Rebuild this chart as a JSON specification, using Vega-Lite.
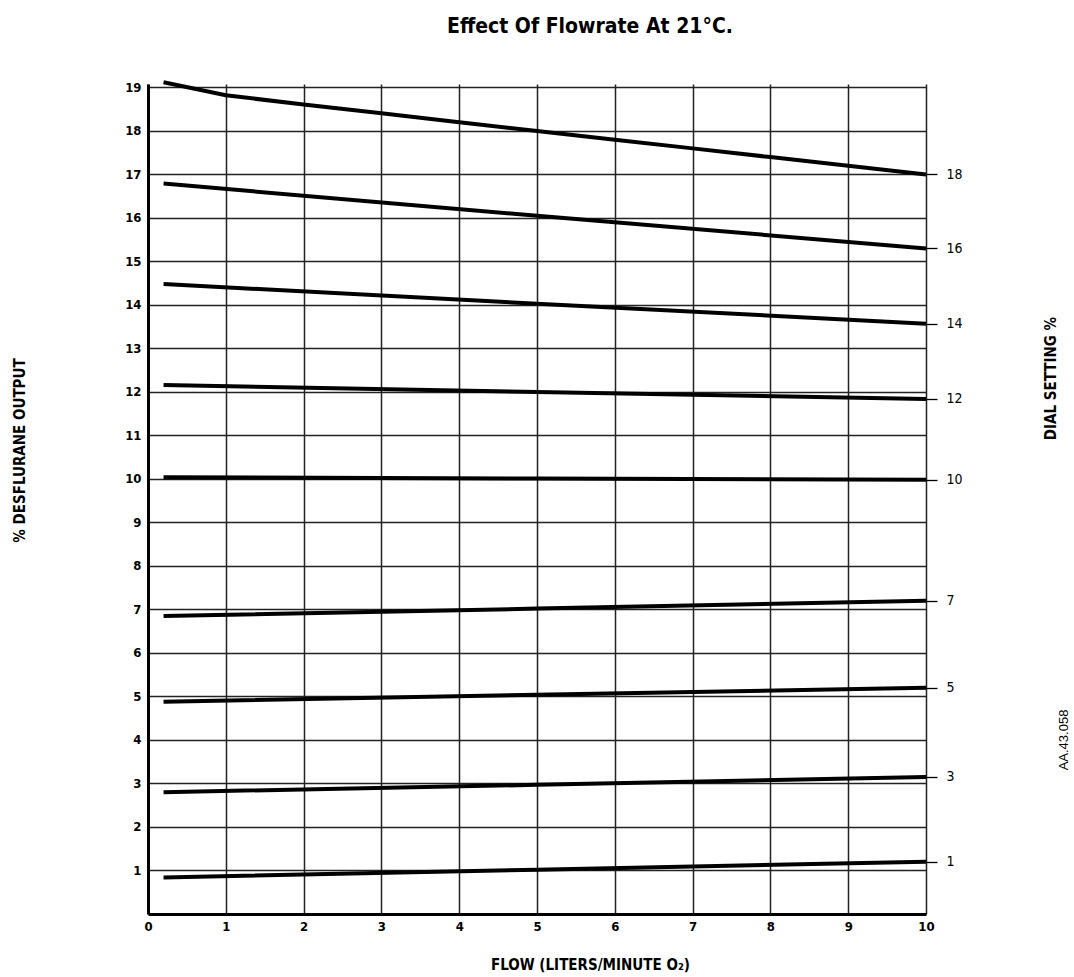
{
  "$schema": "https://vega.github.io/schema/vega-lite/v6.json",
  "width": 778,
  "height": 830,
  "autosize": "none",
  "padding": {"left": 148, "top": 84, "right": 148, "bottom": 63},
  "background": "white",
  "title": {
    "text": "Effect Of Flowrate At 21°C.",
    "font": "Liberation Sans Narrow, DejaVu Sans Condensed, sans-serif",
    "fontSize": 21,
    "fontWeight": "bold",
    "color": "black",
    "anchor": "middle",
    "frame": "group",
    "dx": 53,
    "baseline": "alphabetic",
    "offset": 20
  },
  "config": {
    "view": {"stroke": null},
    "axis": {
      "labelFont": "Liberation Sans Narrow, DejaVu Sans Condensed, sans-serif",
      "titleFont": "Liberation Sans Narrow, DejaVu Sans Condensed, sans-serif",
      "labelColor": "black",
      "titleColor": "black"
    }
  },
  "datasets": {
    "curves": [
      {"dial": 18, "flow": 0.2, "output": 19.12},
      {"dial": 18, "flow": 1, "output": 18.82},
      {"dial": 18, "flow": 2, "output": 18.61},
      {"dial": 18, "flow": 3, "output": 18.41},
      {"dial": 18, "flow": 4, "output": 18.2},
      {"dial": 18, "flow": 5, "output": 18.0},
      {"dial": 18, "flow": 6, "output": 17.8},
      {"dial": 18, "flow": 7, "output": 17.6},
      {"dial": 18, "flow": 8, "output": 17.4},
      {"dial": 18, "flow": 9, "output": 17.2},
      {"dial": 18, "flow": 10, "output": 17.0},
      {"dial": 16, "flow": 0.2, "output": 16.79},
      {"dial": 16, "flow": 5, "output": 16.05},
      {"dial": 16, "flow": 10, "output": 15.3},
      {"dial": 14, "flow": 0.2, "output": 14.48},
      {"dial": 14, "flow": 5, "output": 14.03},
      {"dial": 14, "flow": 10, "output": 13.57},
      {"dial": 12, "flow": 0.2, "output": 12.16},
      {"dial": 12, "flow": 5, "output": 12.0},
      {"dial": 12, "flow": 10, "output": 11.84},
      {"dial": 10, "flow": 0.2, "output": 10.04},
      {"dial": 10, "flow": 5, "output": 10.01},
      {"dial": 10, "flow": 10, "output": 9.98},
      {"dial": 7, "flow": 0.2, "output": 6.85},
      {"dial": 7, "flow": 5, "output": 7.02},
      {"dial": 7, "flow": 10, "output": 7.2},
      {"dial": 5, "flow": 0.2, "output": 4.88},
      {"dial": 5, "flow": 5, "output": 5.04},
      {"dial": 5, "flow": 10, "output": 5.2},
      {"dial": 3, "flow": 0.2, "output": 2.8},
      {"dial": 3, "flow": 5, "output": 2.97},
      {"dial": 3, "flow": 10, "output": 3.15},
      {"dial": 1, "flow": 0.2, "output": 0.84},
      {"dial": 1, "flow": 5, "output": 1.02},
      {"dial": 1, "flow": 10, "output": 1.2}
    ],
    "note": [
      {"label": "AA.43.058", "flow": 11.78, "output": 4.0}
    ]
  },
  "resolve": {"scale": {"y": "independent"}, "axis": {"y": "independent"}},
  "layer": [
    {
      "data": {"name": "curves"},
      "mark": {"type": "line", "color": "black", "strokeWidth": 4, "strokeCap": "butt", "clip": false},
      "encoding": {
        "x": {
          "field": "flow",
          "type": "quantitative",
          "scale": {"domain": [0, 10], "nice": false, "zero": false},
          "axis": {
            "values": [0, 1, 2, 3, 4, 5, 6, 7, 8, 9, 10],
            "format": "d",
            "grid": true,
            "gridColor": "#222222",
            "gridWidth": 1.5,
            "gridOpacity": 1,
            "domain": true,
            "domainColor": "black",
            "domainWidth": 3,
            "ticks": false,
            "labelFontSize": 13,
            "labelFontWeight": "bold",
            "labelPadding": 6,
            "labelFlush": false,
            "title": "FLOW (LITERS/MINUTE O₂)",
            "titleFontSize": 15,
            "titleFontWeight": "bold",
            "titleX": 442,
            "titleY": 50,
            "titleAlign": "center",
            "titleBaseline": "middle"
          }
        },
        "y": {
          "field": "output",
          "type": "quantitative",
          "scale": {"domain": [0, 19.08], "nice": false, "zero": false},
          "axis": {
            "orient": "left",
            "values": [1, 2, 3, 4, 5, 6, 7, 8, 9, 10, 11, 12, 13, 14, 15, 16, 17, 18, 19],
            "grid": true,
            "gridColor": "#222222",
            "gridWidth": 1.3,
            "gridOpacity": 1,
            "domain": true,
            "domainColor": "black",
            "domainWidth": 3,
            "ticks": false,
            "labelFontSize": 13,
            "labelFontWeight": "bold",
            "labelPadding": 7,
            "title": "% DESFLURANE OUTPUT",
            "titleFontSize": 15,
            "titleFontWeight": "bold",
            "titleAngle": -90,
            "titleX": -129,
            "titleY": 366,
            "titleAlign": "center",
            "titleBaseline": "middle"
          }
        },
        "detail": {"field": "dial", "type": "nominal"}
      }
    },
    {
      "data": {"name": "curves"},
      "transform": [{"filter": "datum.flow == 10"}],
      "mark": {"type": "point", "opacity": 0},
      "encoding": {
        "x": {"field": "flow", "type": "quantitative"},
        "y": {
          "field": "output",
          "type": "quantitative",
          "scale": {"domain": [0, 19.08], "nice": false, "zero": false},
          "axis": {
            "orient": "right",
            "values": [1.2, 3.15, 5.2, 7.2, 9.98, 11.84, 13.57, 15.3, 17.0],
            "labelExpr": "datum.value == 1.2 ? '1' : datum.value == 3.15 ? '3' : datum.value == 5.2 ? '5' : datum.value == 7.2 ? '7' : datum.value == 9.98 ? '10' : datum.value == 11.84 ? '12' : datum.value == 13.57 ? '14' : datum.value == 15.3 ? '16' : '18'",
            "grid": false,
            "domain": false,
            "ticks": true,
            "tickSize": 11,
            "tickWidth": 1.3,
            "tickColor": "black",
            "labelFontSize": 14,
            "labelFontWeight": "normal",
            "labelPadding": 9,
            "title": "DIAL SETTING %",
            "titleFontSize": 15,
            "titleFontWeight": "bold",
            "titleAngle": -90,
            "titleX": 124,
            "titleY": 294,
            "titleAlign": "center",
            "titleBaseline": "middle"
          }
        }
      }
    },
    {
      "data": {"name": "note"},
      "mark": {"type": "text", "angle": 270, "font": "Liberation Sans, Arial, sans-serif", "fontSize": 13, "color": "black", "align": "center", "baseline": "middle", "clip": false},
      "encoding": {
        "x": {"field": "flow", "type": "quantitative"},
        "y": {
          "field": "output",
          "type": "quantitative",
          "scale": {"domain": [0, 19.08], "nice": false, "zero": false},
          "axis": null
        },
        "text": {"field": "label"}
      }
    }
  ]
}
